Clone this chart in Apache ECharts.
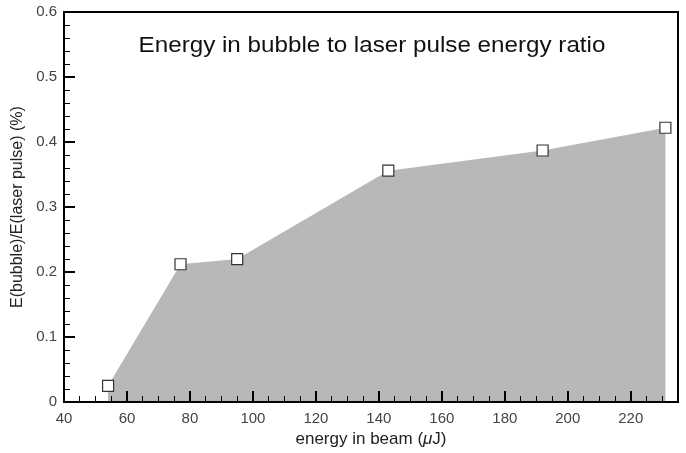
<!DOCTYPE html>
<html>
<head>
<meta charset="utf-8">
<script src="https://cdn.jsdelivr.net/npm/echarts@6/dist/echarts.min.js"></script>
<style>html,body{margin:0;padding:0;background:#fff}#c{width:686px;height:453px}</style>
</head>
<body>
<div id="c"></div>
<script>
const beamEnergy = [54, 77, 95, 143, 192, 231];
const energyRatio = [0.025, 0.212, 0.220, 0.356, 0.387, 0.422];
const titleText = 'Energy in bubble to laser pulse energy ratio';
const yName = 'E(bubble)/E(laser pulse) (%)';

const chart = echarts.init(document.getElementById('c'));
const font = 'Liberation Sans, Arial, Helvetica, sans-serif';
const pts = beamEnergy.map((x, i) => [x, energyRatio[i]]);
chart.setOption({
  animation: false,
  grid: { left: 64, right: 8, top: 12, bottom: 47, show: true, borderColor: '#000', borderWidth: 2, backgroundColor: 'transparent', z: 5 },
  graphic: [{
    type: 'text', x: 372, y: 46, z: 10, scaleX: 1.1,
    style: { text: titleText, font: '22px ' + font, fill: '#111', align: 'center', verticalAlign: 'middle' }
  }],
  xAxis: [{
    type: 'value', min: 40, max: 235, interval: 20, z: 5,
    axisLine: { show: true, lineStyle: { color: '#000', width: 2 } },
    axisTick: { show: true, inside: true, length: 11, lineStyle: { color: '#000', width: 2 } },
    axisLabel: { showMaxLabel: false, color: '#444', fontSize: 15, fontFamily: font, margin: 9 },
    splitLine: { show: false },
    name: '{n|energy in beam (}{i|μ}{n|J)}',
    nameLocation: 'middle', nameGap: 27,
    nameTextStyle: { rich: { n: { fontSize: 17, fontFamily: font, color: '#222' }, i: { fontSize: 17, fontFamily: font, fontStyle: 'italic', color: '#222' } } }
  }, {
    type: 'value', min: 40, max: 235, interval: 5, position: 'bottom', z: 5,
    axisLine: { show: false },
    axisTick: { show: true, inside: true, length: 6, lineStyle: { color: '#000', width: 1 } },
    axisLabel: { show: false },
    splitLine: { show: false }
  }],
  yAxis: {
    type: 'value', min: 0, max: 0.6, interval: 0.1, z: 5,
    axisLine: { show: true, lineStyle: { color: '#000', width: 2 } },
    axisTick: { show: true, inside: true, length: 11, lineStyle: { color: '#000', width: 2 } },
    minorTick: { show: true, splitNumber: 5, length: 6, lineStyle: { color: '#000', width: 1 } },
    axisLabel: { color: '#444', fontSize: 15, fontFamily: font, margin: 7, formatter: v => String(+v.toFixed(1)) },
    splitLine: { show: false },
    name: yName, nameLocation: 'middle', nameGap: 31,
    nameTextStyle: { fontSize: 16, fontFamily: font, color: '#222' }
  },
  series: [{
    type: 'line', data: pts, xAxisIndex: 0,
    lineStyle: { width: 0 },
    areaStyle: { color: '#b8b8b8', opacity: 1 },
    symbol: 'rect', symbolSize: 11, showAllSymbol: true,
    itemStyle: { color: '#fff', borderColor: '#333', borderWidth: 1.2 },
    z: 1
  }]
});
</script>
</body>
</html>
